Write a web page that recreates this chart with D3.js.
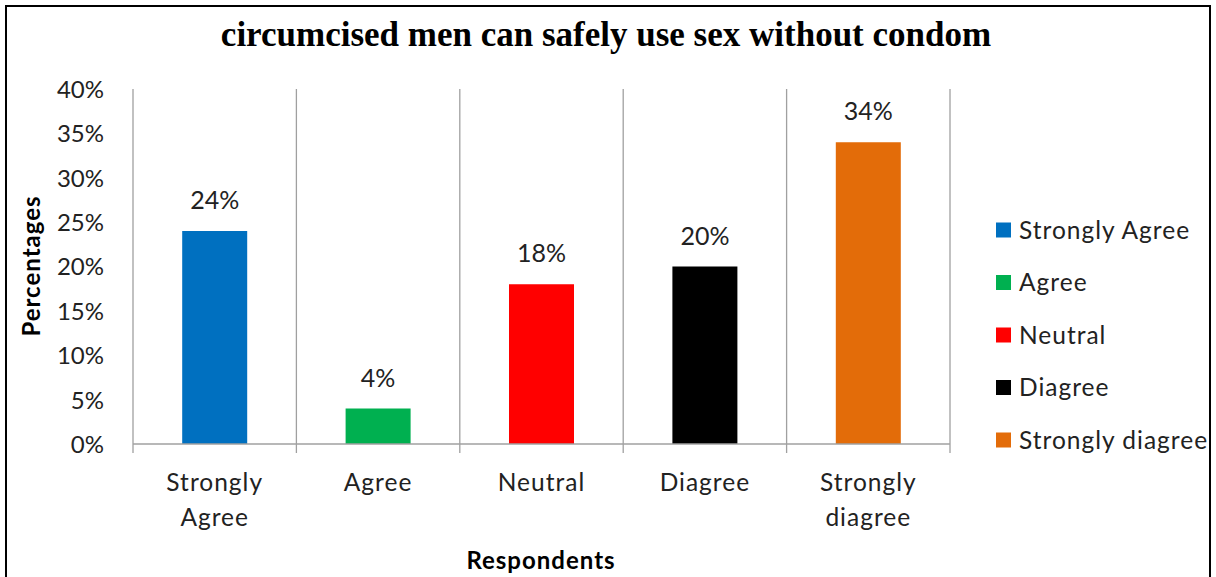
<!DOCTYPE html>
<html>
<head>
<meta charset="utf-8">
<script src="https://cdn.jsdelivr.net/npm/d3@7"></script>
<style>
  html, body { margin: 0; padding: 0; background: #fff; }
  svg { display: block; }
</style>
</head>
<body>
<svg id="chart" width="1216" height="577"></svg>
<script>
// Survey responses: "circumcised men can safely use sex without condom"
const categories = ["Strongly Agree", "Agree", "Neutral", "Diagree", "Strongly diagree"];
const axisLabels = [["Strongly", "Agree"], ["Agree"], ["Neutral"], ["Diagree"], ["Strongly", "diagree"]];
const percentages = [24, 4, 18, 20, 34];
const barColors = ["#0070C0", "#00B050", "#FF0000", "#000000", "#E36C09"];
const yTicks = [0, 5, 10, 15, 20, 25, 30, 35, 40];

const svg = d3.select("#chart");
const sans = "Lato, 'Open Sans', sans-serif";
const fs = 24;      // numeric labels
const fsText = 24.5; // word labels
const ls = 1;       // letter spacing for word labels

// Outer frame
svg.append("rect")
  .attr("x", 6).attr("y", 6).attr("width", 1204).attr("height", 580)
  .attr("fill", "#fff").attr("stroke", "#000").attr("stroke-width", 2);

const plot = { left: 133, right: 950, top: 89, bottom: 444 };

const x = d3.scaleBand().domain(categories).range([plot.left, plot.right]).paddingInner(0).paddingOuter(0);
const y = d3.scaleLinear().domain([0, 40]).range([plot.bottom, plot.top]);
const color = d3.scaleOrdinal().domain(categories).range(barColors);

// Title
svg.append("text")
  .attr("x", 606).attr("y", 46)
  .attr("text-anchor", "middle")
  .attr("font-family", "'Liberation Serif', 'Times New Roman', serif")
  .attr("font-weight", "bold").attr("font-size", 35)
  .attr("fill", "#000")
  .text("circumcised men can safely use sex without condom");

// Vertical category separators
const bounds = categories.map(c => x(c)).concat([plot.right]);
svg.append("g").selectAll("line").data(bounds).join("line")
  .attr("x1", d => d).attr("x2", d => d)
  .attr("y1", plot.top).attr("y2", plot.bottom + 9)
  .attr("stroke", "#a0a0a0").attr("stroke-width", 1.3);

// Y axis labels
const yAxis = d3.axisLeft(y).tickValues(yTicks).tickFormat(d => d + "%").tickSize(0).tickPadding(0);
const yg = svg.append("g").attr("transform", `translate(${plot.left - 29},0)`).call(yAxis);
yg.select(".domain").remove();
yg.selectAll("text")
  .attr("font-family", sans).attr("font-size", fs).attr("fill", "#222")
  .attr("dy", "0.35em");

// Bars
const barW = 65;
svg.append("g").selectAll("rect").data(categories).join("rect")
  .attr("x", (d) => x(d) + x.bandwidth() / 2 - barW / 2)
  .attr("y", (d, i) => y(percentages[i]))
  .attr("width", barW)
  .attr("height", (d, i) => y(0) - y(percentages[i]))
  .attr("fill", d => color(d));

// Value labels
svg.append("g").selectAll("text").data(categories).join("text")
  .attr("x", d => x(d) + x.bandwidth() / 2)
  .attr("y", (d, i) => y(percentages[i]) - 22)
  .attr("text-anchor", "middle")
  .attr("font-family", sans).attr("font-size", 25).attr("fill", "#222")
  .text((d, i) => percentages[i] + "%");

// X axis line
svg.append("line")
  .attr("x1", plot.left).attr("x2", plot.right)
  .attr("y1", plot.bottom).attr("y2", plot.bottom)
  .attr("stroke", "#a0a0a0").attr("stroke-width", 1.5);

// Category labels
const xl = svg.append("g").selectAll("text").data(categories).join("text")
  .attr("x", d => x(d) + x.bandwidth() / 2)
  .attr("y", 491)
  .attr("text-anchor", "middle")
  .attr("font-family", sans).attr("font-size", fsText).attr("letter-spacing", ls).attr("fill", "#222");
xl.each(function(d, i) {
  const t = d3.select(this);
  axisLabels[i].forEach((line, j) => {
    t.append("tspan").attr("x", x(d) + x.bandwidth() / 2).attr("dy", j === 0 ? 0 : 35).text(line);
  });
});

// Axis titles
svg.append("text")
  .attr("x", 541).attr("y", 569)
  .attr("text-anchor", "middle")
  .attr("font-family", sans).attr("font-weight", "bold").attr("font-size", 24).attr("letter-spacing", 1)
  .attr("fill", "#000")
  .text("Respondents");

svg.append("text")
  .attr("transform", "translate(40,266) rotate(-90)")
  .attr("text-anchor", "middle")
  .attr("font-family", sans).attr("font-weight", "bold").attr("font-size", 24).attr("letter-spacing", 1)
  .attr("fill", "#000")
  .text("Percentages");

// Legend
const legend = svg.append("g").selectAll("g").data(categories).join("g")
  .attr("transform", (d, i) => `translate(996,${230 + i * 52.5})`);
legend.append("rect")
  .attr("x", 0).attr("y", -7.5).attr("width", 15).attr("height", 15)
  .attr("fill", d => color(d));
legend.append("text")
  .attr("x", 23).attr("y", 0).attr("dy", "0.35em")
  .attr("font-family", sans).attr("font-size", fsText).attr("letter-spacing", ls).attr("fill", "#222")
  .text(d => d);
</script>
</body>
</html>
